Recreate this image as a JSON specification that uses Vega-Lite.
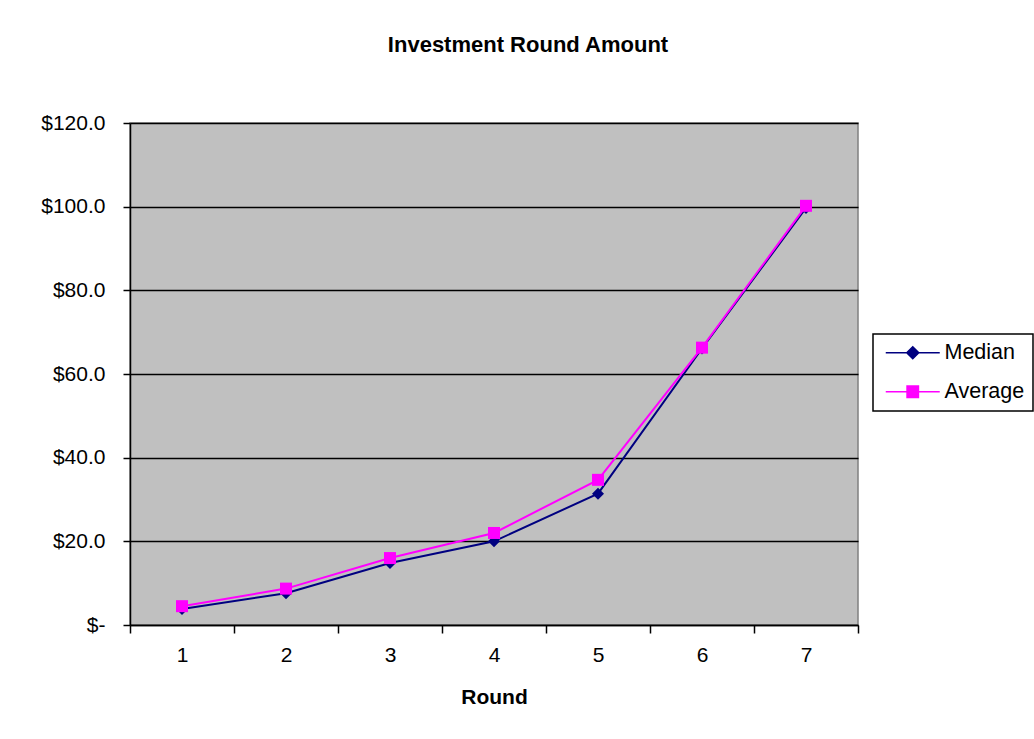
{
  "$schema": "https://vega.github.io/schema/vega-lite/v6.json",
  "width": 728,
  "height": 502,
  "autosize": {"type": "none"},
  "padding": {"left": 130, "top": 123, "right": 176, "bottom": 114},
  "background": "white",
  "title": {
    "text": "Investment Round Amount",
    "font": "Liberation Sans",
    "fontSize": 22,
    "fontWeight": "bold",
    "color": "black",
    "anchor": "middle",
    "dx": 34,
    "offset": 55
  },
  "data": {
    "values": [
      {"Round": 1, "Series": "Median", "Amount": 3.8},
      {"Round": 2, "Series": "Median", "Amount": 7.6},
      {"Round": 3, "Series": "Median", "Amount": 14.8},
      {"Round": 4, "Series": "Median", "Amount": 20.0},
      {"Round": 5, "Series": "Median", "Amount": 31.4},
      {"Round": 6, "Series": "Median", "Amount": 66.1},
      {"Round": 7, "Series": "Median", "Amount": 99.7},
      {"Round": 1, "Series": "Average", "Amount": 4.5},
      {"Round": 2, "Series": "Average", "Amount": 8.7},
      {"Round": 3, "Series": "Average", "Amount": 16.0},
      {"Round": 4, "Series": "Average", "Amount": 22.0},
      {"Round": 5, "Series": "Average", "Amount": 34.7},
      {"Round": 6, "Series": "Average", "Amount": 66.3},
      {"Round": 7, "Series": "Average", "Amount": 100.2}
    ]
  },
  "encoding": {
    "x": {
      "field": "Round",
      "type": "ordinal",
      "scale": {"type": "band", "paddingInner": 0, "paddingOuter": 0},
      "axis": {
        "title": "Round",
        "labelAngle": 0,
        "tickBand": "extent",
        "tickSize": 8,
        "tickColor": "black",
        "tickWidth": 1.5,
        "domainColor": "black",
        "domainWidth": 1.5,
        "labelFont": "Liberation Sans",
        "labelFontSize": 21,
        "labelColor": "black",
        "labelPadding": 11,
        "titleFont": "Liberation Sans",
        "titleFontSize": 21,
        "titleFontWeight": "bold",
        "titleColor": "black",
        "titlePadding": 21,
        "grid": false
      }
    },
    "y": {
      "field": "Amount",
      "type": "quantitative",
      "scale": {"domain": [0, 120], "nice": false},
      "axis": {
        "title": null,
        "values": [0, 20, 40, 60, 80, 100, 120],
        "labelExpr": "datum.value === 0 ? '$-' : '$' + format(datum.value, '.1f')",
        "labelFont": "Liberation Sans",
        "labelFontSize": 21,
        "labelColor": "black",
        "labelPadding": 18,
        "tickSize": 7,
        "tickColor": "black",
        "tickWidth": 1.5,
        "domainColor": "black",
        "domainWidth": 1.5,
        "grid": true,
        "gridColor": "black",
        "gridWidth": 1.5,
        "encode": {
          "labels": {"update": {"dx": {"signal": "datum.value === 0 ? -21 : 0"}}}
        }
      }
    },
    "color": {
      "field": "Series",
      "type": "nominal",
      "scale": {"domain": ["Median", "Average"], "range": ["#000080", "#FF00FF"]},
      "legend": {
        "title": null,
        "orient": "none",
        "legendX": 743,
        "legendY": 211,
        "padding": 8,
        "strokeColor": "black",
        "fillColor": "white",
        "cornerRadius": 0,
        "labelFont": "Liberation Sans",
        "labelFontSize": 21.5,
        "labelColor": "black",
        "labelOffset": 21,
        "symbolOffset": 21,
        "rowPadding": 16,
        "symbolSize": 144,
        "encode": {
          "legend": {"update": {"strokeWidth": {"value": 1.5}}},
          "symbols": {
            "update": {
              "shape": {"signal": "datum.value === 'Median' ? 'M-4.5,0H4.5M0,-1L1,0L0,1L-1,0Z' : 'M-4.5,0H4.5M-0.95,-0.95H0.95V0.95H-0.95Z'"},
              "fill": {"signal": "datum.value === 'Median' ? '#000080' : '#FF00FF'"},
              "stroke": {"signal": "datum.value === 'Median' ? '#000080' : '#FF00FF'"},
              "strokeWidth": {"value": 1.5},
              "opacity": {"value": 1},
              "fillOpacity": {"value": 1},
              "size": {"value": 144}
            }
          }
        }
      }
    }
  },
  "layer": [
    {
      "transform": [{"filter": "datum.Series === 'Median'"}],
      "mark": {"type": "line", "strokeWidth": 2}
    },
    {
      "transform": [{"filter": "datum.Series === 'Median'"}],
      "mark": {"type": "point", "filled": true, "opacity": 1, "size": 144, "shape": "diamond"}
    },
    {
      "transform": [{"filter": "datum.Series === 'Average'"}],
      "mark": {"type": "line", "strokeWidth": 2}
    },
    {
      "transform": [{"filter": "datum.Series === 'Average'"}],
      "mark": {"type": "point", "filled": true, "opacity": 1, "size": 144, "shape": "square"}
    }
  ],
  "config": {
    "view": {"fill": "#C0C0C0", "stroke": "#808080", "strokeWidth": 1.5}
  }
}
